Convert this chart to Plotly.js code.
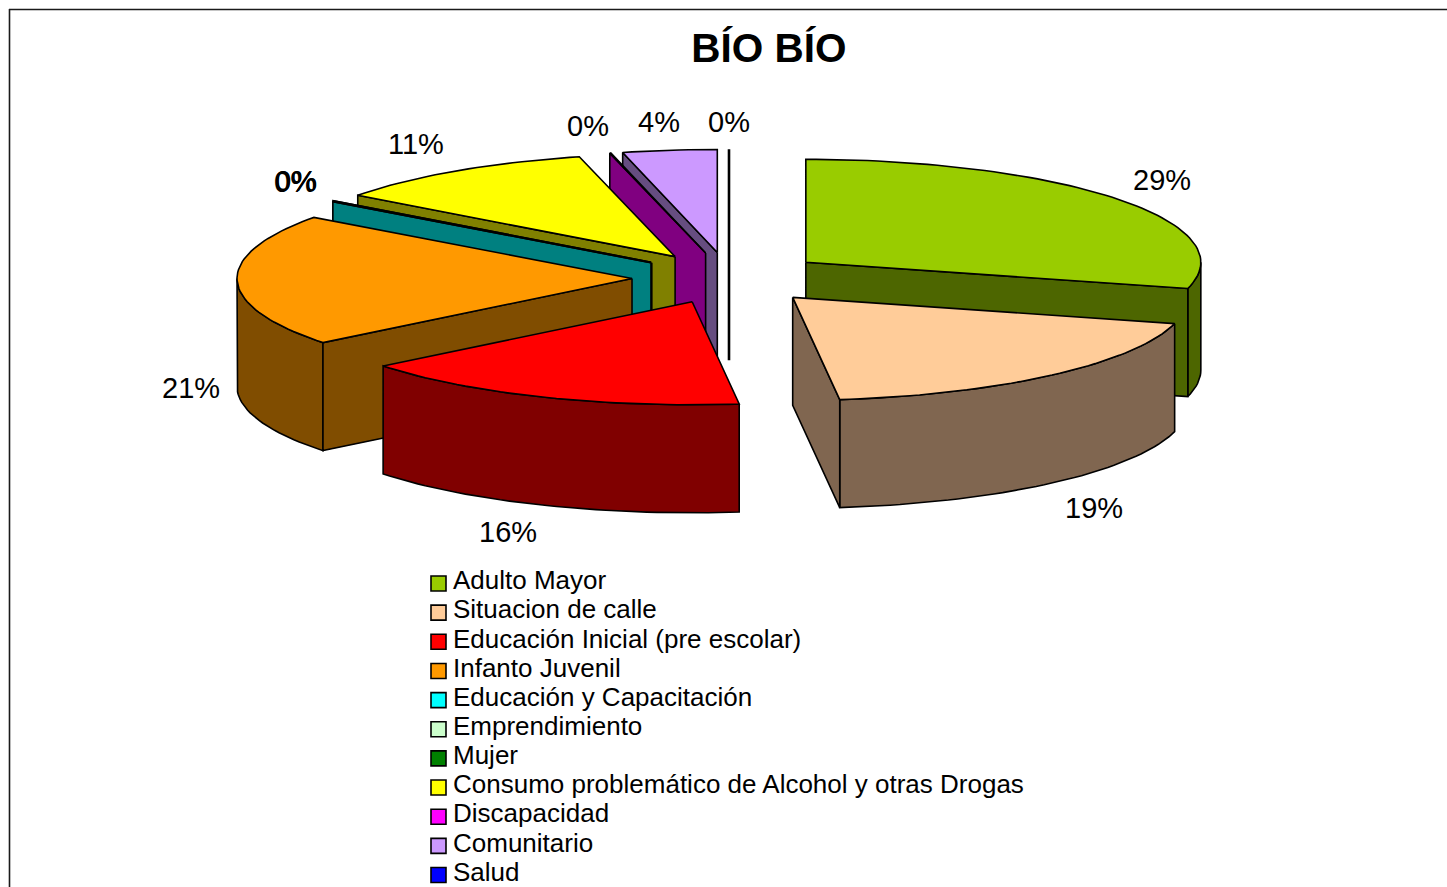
<!DOCTYPE html>
<html>
<head>
<meta charset="utf-8">
<script src="https://cdn.plot.ly/plotly-3.0.1.min.js"></script>
<style>html,body{margin:0;padding:0;background:#fff;overflow:hidden}#chart{width:1447px;height:887px}</style>
</head>
<body>
<div id="chart"></div>
<script>
// ---------- data ----------
const categories = ["Adulto Mayor","Situacion de calle","Educación Inicial (pre escolar)","Infanto Juvenil","Educación y Capacitación","Emprendimiento","Mujer","Consumo problemático de Alcohol y otras Drogas","Discapacidad","Comunitario","Salud"];
const values = [29.1,19.0,16.2,20.8,0.05,0,0,10.95,0.05,3.85,0];
const topColors = ["#99CC00","#FFCC99","#FF0000","#FF9900","#00FFFF","#CCFFCC","#008000","#FFFF00","#FF00FF","#CC99FF","#0000FF"];
const sideColors = ["#4D6600","#806650","#800000","#804D00","#008080","#668066","#004000","#808000","#800080","#664D80","#000080"];
const chartTitle = "BÍO BÍO";

// ---------- projection of the 3-D pie (pixel space of the hidden axes) ----------
const W = 1447, H = 887;
const cx = 729, cy = 278, rx = 395, ry = 103, depth = 108, ex = 97, ey = 25.7;
const labelNudge = [[43,-19],[42,25],[-34,27],[-46,0],[-38,-20],[-38,-20],[-38,-20],[-40,-27],[-22.5,-27],[-11,-28],[0,-27]];
const rad = d => d * Math.PI / 180;
const total = values.reduce((a, b) => a + b, 0);

let cum = 0;
const wedges = values.map((v, i) => {
  const a0 = cum / total * 360; cum += v; const a1 = cum / total * 360;
  const mid = (a0 + a1) / 2;
  return {i, v, a0, a1, mid, ax: cx + ex * Math.sin(rad(mid)), ay: cy - ey * Math.cos(rad(mid))};
});
const rim = (w, a) => [w.ax + rx * Math.sin(rad(a)), w.ay - ry * Math.cos(rad(a))];
function arc(w, a0, a1) {
  const n = Math.max(1, Math.ceil(Math.abs(a1 - a0) / 1.5)), pts = [];
  for (let k = 0; k <= n; k++) pts.push(rim(w, a0 + (a1 - a0) * k / n));
  return pts;
}
function face(pts, color, lw) {
  const xs = pts.map(p => p[0]), ys = pts.map(p => p[1]);
  xs.push(xs[0]); ys.push(ys[0]);
  return {type:"scatter", mode:"lines", x:xs, y:ys, fill:"toself", fillcolor:color,
          line:{color:"#000", width:lw}, hoverinfo:"skip", showlegend:false};
}
function drawWedge(w) {
  const out = [], side = sideColors[w.i], lw = w.v === 0 ? 2.6 : 1.6;
  const down = p => [p[0], p[1] + depth];
  // outer wall: only the near half of the rim is visible
  const s = Math.max(w.a0, 90), e = Math.min(w.a1, 270);
  if (e > s) { const top = arc(w, s, e); out.push(face(top.concat(top.slice().reverse().map(down)), side, lw)); }
  // cut faces, when they turn towards the viewer
  const cut = a => { const p = rim(w, a), o = [w.ax, w.ay]; return face([o, p, down(p), down(o)], side, lw); };
  if (w.v > 0 && Math.sin(rad(w.a1)) > 0.001) out.push(cut(w.a1));
  if (Math.sin(rad(w.a0)) < 0.001 && w.a0 > 180) out.push(cut(w.a0));
  // top surface
  if (w.v > 0) out.push(face([[w.ax, w.ay]].concat(arc(w, w.a0, w.a1)), topColors[w.i], lw));
  return out;
}
// painter's order: the far slices first
const order = [10,9,8,7,6,5,4,3,2,0,1];
const traces = [];
order.forEach(i => drawWedge(wedges[i]).forEach(t => traces.push(t)));

// ---------- legend (own squares + text, Excel style) ----------
const legX = 438.5, legY0 = 583.5, legStep = 29.15;
const legY = categories.map((c, i) => legY0 + i * legStep);
traces.push({type:"scatter", mode:"markers", x:categories.map(() => legX), y:legY,
  marker:{symbol:"square", size:15, color:topColors, line:{color:"#000", width:1.6}},
  hoverinfo:"skip", showlegend:false});

const FONT = "'Liberation Sans', Arial, sans-serif";
const annotations = categories.map((c, i) => ({
  x:451, y:legY[i] - 3.3, xref:"x", yref:"y", text:c, showarrow:false,
  xanchor:"left", yanchor:"middle", font:{family:FONT, size:26, color:"#000"}
}));
wedges.forEach(w => {
  const s = Math.sin(rad(w.mid)), c = Math.cos(rad(w.mid));
  const front = (w.mid > 90 && w.mid < 270) ? depth : 0;
  annotations.push({
    x: w.ax + rx * s + labelNudge[w.i][0],
    y: w.ay - ry * c + front + labelNudge[w.i][1],
    xref:"x", yref:"y", text: Math.round(w.v / total * 100) + "%", showarrow:false,
    xanchor:"center", yanchor:"middle", font:{family:FONT, size:29, color:"#000"}
  });
});

const hidden = r => ({range:r, visible:false, fixedrange:true, showgrid:false, zeroline:false});
const layout = {
  width:W, height:H, margin:{l:0,r:0,t:0,b:0}, paper_bgcolor:"#fff", plot_bgcolor:"#fff",
  title:{text:chartTitle, x:769/W, y:1-48/H, xref:"paper", yref:"paper", xanchor:"center", yanchor:"middle",
         font:{family:FONT, size:40.5, color:"#000", weight:700}},
  xaxis:hidden([0,W]), yaxis:hidden([H,0]),
  showlegend:false, annotations,
  shapes:[
    {type:"line", xref:"x", yref:"y", x0:9, y0:9.5, x1:W, y1:9.5, line:{color:"#1a1a1a", width:1.6}},
    {type:"line", xref:"x", yref:"y", x0:9.5, y0:9, x1:9.5, y1:H, line:{color:"#1a1a1a", width:1.6}}
  ]
};
Plotly.newPlot("chart", traces, layout, {displayModeBar:false, staticPlot:true});
</script>
</body>
</html>
